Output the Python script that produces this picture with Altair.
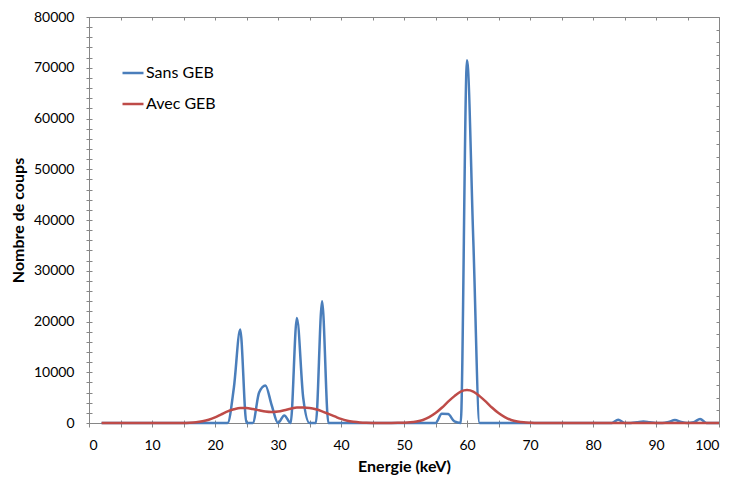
import altair as alt
import pandas as pd

# ---------------- data ----------------
energy = list(range(2, 101))

sans_geb = [
    0, 0, 0, 0, 0, 0, 0, 0, 0, 0, 0, 0, 0, 0, 0, 0, 0, 0, 0, 0,          # 2..21
    0, 7000, 18400, 0, 0, 6000, 7400, 3500, 0, 1500, 0, 20700, 5000,     # 22..34
    0, 0, 24000, 0,                                                      # 35..38
    0, 0, 0, 0, 0, 0, 0, 0, 0, 0, 0, 0, 0, 0, 0, 0, 0,                   # 39..55
    1800, 1750, 300, 0, 71500, 36000, 0,                                 # 56..62
    0, 0, 0, 0, 0, 0, 0, 0, 0, 0, 0, 0, 0, 0, 0, 0, 0, 0, 0, 0, 0,       # 63..83
    650, 0, 0, 150, 300, 150, 0, 0, 200, 600, 200, 0, 150, 800, 0, 0, 0,  # 84..100
]

avec_geb = [
    0, 0, 0, 0, 0, 0, 0, 0, 0, 0, 0, 0, 0, 0,                            # 2..15
    50, 150, 350, 650, 1100, 1700, 2300, 2700, 2950, 2950,               # 16..25
    2750, 2500, 2250, 2150, 2250, 2500, 2800, 3050, 3050, 2950,          # 26..35
    2700, 2300, 1800, 1300, 800, 450, 250, 120, 50, 20,                  # 36..45
    10, 10, 15, 30, 60, 130, 300, 600, 1150, 1950,                       # 46..55
    3000, 4200, 5300, 6200, 6500, 6200, 5300, 4200, 3000, 1950,          # 56..65
    1150, 600, 300, 130, 50,                                             # 66..70
    0, 0, 0, 0, 0, 0, 0, 0, 0, 0, 0, 0, 0, 0, 0,                         # 71..85
    0, 0, 0, 0, 0, 0, 0, 0, 0, 0, 0, 0, 0, 0, 0,                         # 86..100
]

series_names = ["Sans GEB", "Avec GEB"]
series_colors = ["#4A7EBB", "#BE4B48"]

x_label_values = [0, 10, 20, 30, 40, 50, 60, 70, 80, 90, 100]
x_tick_values = [0, 5, 10, 15, 20, 25, 30, 35, 40, 45, 50, 55, 60, 65, 70, 75, 80, 85, 90, 95, 100]
y_label_values = [0, 10000, 20000, 30000, 40000, 50000, 60000, 70000, 80000]
y_minor_values = list(range(0, 80001, 2000))
y_right_values = list(range(0, 80001, 2500))

df = pd.DataFrame({
    "energy": energy + energy,
    "count": sans_geb + avec_geb,
    "series": [series_names[0]] * len(energy) + [series_names[1]] * len(energy),
})

# ---------------- styling ----------------
W, H = 630, 406
FONT = "Lato"
GRAY = "#868686"

x_scale = alt.Scale(domain=[0, 100], nice=False, zero=False)
y_scale = alt.Scale(domain=[0, 80000], nice=False)
color_scale = alt.Scale(domain=series_names, range=series_colors)

legend = alt.Legend(
    orient="none", legendX=32, legendY=44, title=None,
    symbolType="stroke", symbolSize=441, symbolStrokeWidth=2.5,
    labelFont=FONT, labelFontSize=16, labelColor="black",
    labelOffset=1, rowPadding=11, padding=0,
)

main_x_axis = alt.Axis(
    orient="bottom", values=x_label_values, ticks=False, tickSize=0,
    domain=True, domainColor=GRAY, domainWidth=1, grid=False, format="d",
    labelFont=FONT, labelFontSize=14, labelColor="black", labelPadding=15,
    title="Energie (keV)", titleFont=FONT, titleFontSize=16,
    titleFontWeight="bold", titleColor="black", titlePadding=6,
)
main_y_axis = alt.Axis(
    orient="left", values=y_label_values, ticks=False, tickSize=0,
    domain=True, domainColor=GRAY, domainWidth=1, grid=False, format="d",
    labelFont=FONT, labelFontSize=14, labelColor="black", labelPadding=15,
    title="Nombre de coups", titleFont=FONT, titleFontSize=16,
    titleFontWeight="bold", titleColor="black", titlePadding=7,
)


def series_layer(name, x_axis, y_axis):
    return (
        alt.Chart(df)
        .transform_filter(alt.datum.series == name)
        .mark_line(interpolate="monotone", strokeWidth=2.5)
        .encode(
            x=alt.X("energy:Q", scale=x_scale, axis=x_axis),
            y=alt.Y("count:Q", scale=y_scale, axis=y_axis),
            color=alt.Color("series:N", scale=color_scale, legend=legend),
        )
    )


def axis_layer(x_axis, y_axis):
    return (
        alt.Chart(df)
        .mark_line(strokeOpacity=0)
        .encode(
            x=alt.X("energy:Q", scale=x_scale, axis=x_axis),
            y=alt.Y("count:Q", scale=y_scale, axis=y_axis),
        )
    )


# crossing ticks on bottom and left axes
cross_layer = axis_layer(
    alt.Axis(orient="bottom", offset=-3, values=x_tick_values, tickSize=7,
             tickColor=GRAY, labels=False, domain=False, grid=False, title=None),
    alt.Axis(orient="left", offset=-3, values=y_minor_values, tickSize=6,
             tickColor=GRAY, labels=False, domain=False, grid=False, title=None),
)
# frame: top and right sides with inward ticks
frame_layer = axis_layer(
    alt.Axis(orient="bottom", offset=-H, values=x_tick_values, tickSize=3,
             tickColor=GRAY, labels=False, domain=True, domainColor=GRAY,
             grid=False, title=None),
    alt.Axis(orient="left", offset=-W, values=y_right_values, tickSize=3,
             tickColor=GRAY, labels=False, domain=True, domainColor=GRAY,
             grid=False, title=None),
)

blue = series_layer(series_names[0], main_x_axis, main_y_axis)
red = series_layer(series_names[1], None, None)

chart = (
    alt.layer(cross_layer, frame_layer, blue, red)
    .resolve_axis(x="independent", y="independent")
    .properties(
        width=W, height=H,
        autosize=alt.AutoSizeParams(type="none"),
        padding={"left": 81, "top": 9, "right": 10, "bottom": 52},
        background="white",
    )
    .configure_view(stroke=None)
)

chart.save("out.html", embed_options={"renderer": "svg", "actions": False})
